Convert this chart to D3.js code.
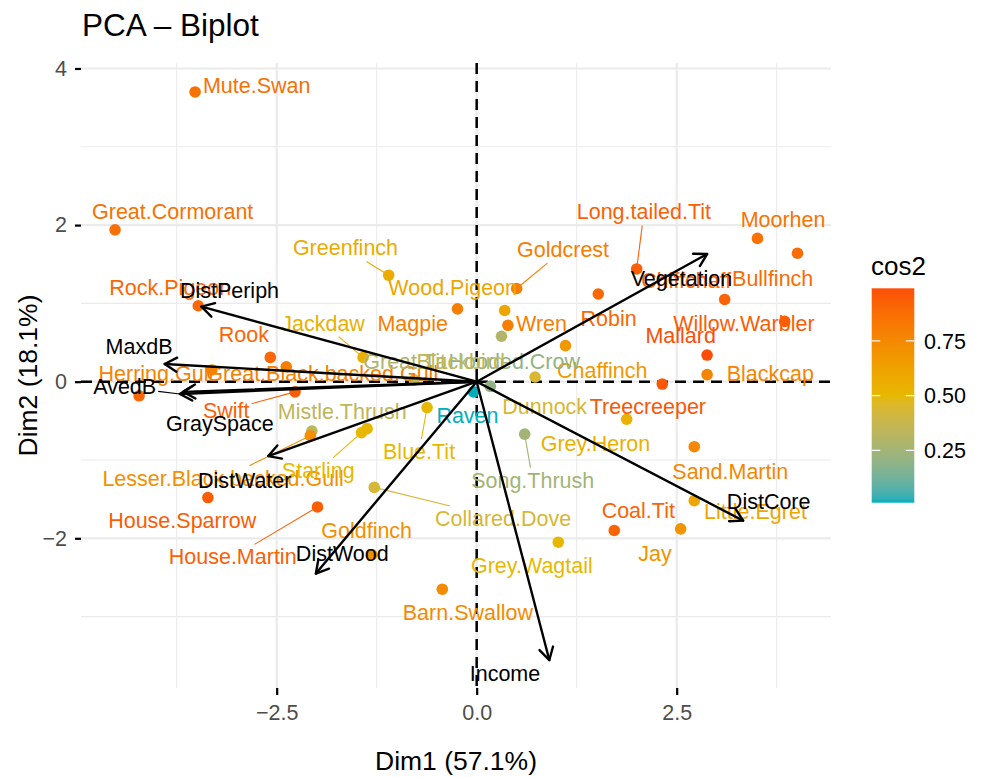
<!DOCTYPE html>
<html>
<head>
<meta charset="utf-8">
<script src="https://cdn.jsdelivr.net/npm/d3@7/dist/d3.min.js"></script>
<style>
  body { margin: 0; background: #fff; }
  text { font-family: "Liberation Sans", Arial, Helvetica, sans-serif; }
</style>
</head>
<body>
<svg id="chart" width="981" height="777"></svg>
<script>
// ---- individuals (bird species): PCA coordinates and quality of representation ----
const birds = ["Mute.Swan","Great.Cormorant","Greenfinch","Wood.Pigeon","Goldcrest","Long.tailed.Tit",
  "Moorhen","Bullfinch","Chiffchaff","Willow.Warbler","Mallard","Blackcap","Treecreeper","Robin",
  "Chaffinch","Dunnock","Wren","Magpie","Jackdaw","Rock.Pigeon","Rook","Great.Black.backed.Gull",
  "Herring.Gull","Black.headed.Gull","Swift","Mistle.Thrush","Lesser.Black.backed.Gull","Starling",
  "Pied.Wagtail","Blue.Tit","Raven","Hooded.Crow","Great.Tit","Blackbird","House.Sparrow",
  "House.Martin","Collared.Dove","Goldfinch","Barn.Swallow","Grey.Wagtail","Coal.Tit","Jay",
  "Little.Egret","Sand.Martin","Grey.Heron","Song.Thrush"];
const dim1 = [-3.52,-4.52,-1.10,0.35,0.50,2.00,3.51,4.01,3.10,3.85,2.88,2.88,2.32,1.52,
  1.11,0.73,0.39,-0.24,-1.42,-3.48,-2.58,-2.38,-3.31,-4.22,-2.27,-2.06,-2.08,-1.44,
  -1.37,-0.62,-0.04,0.17,0.31,-0.78,-3.36,-1.99,-1.28,-1.31,-0.43,1.02,1.72,2.55,
  2.72,2.72,1.875,0.60];
const dim2 = [3.70,1.94,1.36,0.91,1.19,1.44,1.83,1.64,1.05,0.77,0.34,0.09,-0.03,1.12,
  0.46,0.06,0.72,0.93,0.31,0.97,0.31,0.19,0.15,-0.18,-0.13,-0.63,-0.69,-0.65,
  -0.60,-0.33,-0.13,-0.06,0.58,0.02,-1.48,-1.60,-1.35,-2.21,-2.65,-2.05,-1.90,-1.88,
  -1.52,-0.83,-0.48,-0.67];
const cos2 = [0.86,0.86,0.57,0.60,0.80,0.93,0.85,0.88,0.91,0.94,0.99,0.77,0.96,0.90,
  0.68,0.44,0.80,0.80,0.55,0.90,0.90,0.80,0.78,0.90,0.93,0.34,0.72,0.50,
  0.52,0.50,0.011,0.20,0.30,0.35,0.94,0.93,0.43,0.72,0.74,0.50,0.91,0.70,
  0.60,0.76,0.54,0.25];

// ---- variables: loadings drawn as arrows ----
const variables = ["DistCore","DistPeriph","DistWater","DistWood","Income","Vegetation","GraySpace","MaxdB","AvedB"];
const varDim1 = [3.33,-3.44,-2.605,-2.01,0.908,2.88,-3.67,-3.90,-3.71];
const varDim2 = [-1.775,0.958,-0.95,-2.45,-3.555,1.63,-0.13,0.226,-0.157];

// ---- axes ----
const xTicks = [-2.5, 0, 2.5];
const xTickLabels = ["\u22122.5", "0.0", "2.5"];
const xMinor = [-3.75, -1.25, 1.25, 3.75];
const yTicks = [-2, 0, 2, 4];
const yTickLabels = ["\u22122", "0", "2", "4"];
const yMinor = [-3, -1, 1, 3];
const legendTicks = [0.25, 0.5, 0.75];
const legendTickLabels = ["0.25", "0.50", "0.75"];

// ---- repelled label placement (plot units); null = label dropped by the repeller ----
const birdLabelAt = {
  "Mute.Swan": [-2.75, 3.79], "Great.Cormorant": [-3.80, 2.17], "Greenfinch": [-1.64, 1.71],
  "Wood.Pigeon": [-0.30, 1.21], "Goldcrest": [1.08, 1.69], "Long.tailed.Tit": [2.09, 2.17],
  "Moorhen": [3.83, 2.07], "Bullfinch": [3.70, 1.32], "Chiffchaff": [2.62, 1.30],
  "Willow.Warbler": [3.34, 0.75], "Mallard": [2.55, 0.59], "Blackcap": [3.67, 0.11],
  "Treecreeper": [2.14, -0.32], "Robin": [1.65, 0.81], "Chaffinch": [1.57, 0.15],
  "Dunnock": [0.85, -0.32], "Wren": [0.81, 0.75], "Magpie": [-0.80, 0.75],
  "Jackdaw": [-1.92, 0.75], "Rock.Pigeon": [-3.83, 1.21], "Rook": [-2.91, 0.60],
  "Great.Black.backed.Gull": [-1.93, 0.11], "Herring.Gull": [-4.01, 0.11], "Black.headed.Gull": null,
  "Swift": [-3.13, -0.36], "Mistle.Thrush": [-1.68, -0.38], "Lesser.Black.backed.Gull": [-3.17, -1.23],
  "Starling": [-1.98, -1.13], "Pied.Wagtail": null, "Blue.Tit": [-0.72, -0.89],
  "Raven": [-0.115, -0.425], "Hooded.Crow": [0.47, 0.255], "Great.Tit": [-0.90, 0.255],
  "Blackbird": [-0.20, 0.255], "House.Sparrow": [-3.68, -1.77], "House.Martin": [-3.05, -2.235],
  "Collared.Dove": [0.33, -1.745], "Goldfinch": [-1.375, -1.894], "Barn.Swallow": [-0.11, -2.94],
  "Grey.Wagtail": [0.69, -2.34], "Coal.Tit": [2.02, -1.64], "Jay": [2.23, -2.19],
  "Little.Egret": [3.485, -1.66], "Sand.Martin": [3.17, -1.14], "Grey.Heron": [1.485, -0.79],
  "Song.Thrush": [0.70, -1.255]
};
const varLabelAt = {
  "DistCore": [3.65, -1.53], "DistPeriph": [-3.09, 1.17], "DistWater": [-2.90, -1.255],
  "DistWood": [-1.68, -2.19], "Income": [0.354, -3.72], "Vegetation": [2.56, 1.32],
  "GraySpace": [-3.21, -0.53], "MaxdB": [-4.22, 0.456], "AvedB": [-4.40, -0.064]
};
// labels pushed far enough from their mark to get a leader segment
const leaders = new Set(["Greenfinch","Goldcrest","Long.tailed.Tit","Jackdaw","Swift",
  "Lesser.Black.backed.Gull","Starling","Blue.Tit","House.Martin","Collared.Dove","Song.Thrush","AvedB"]);

// ---- layout ----
const svg = d3.select("#chart");
const panel = { left: 81, right: 831, top: 63, bottom: 688 };
const x = d3.scaleLinear().domain([-4.946, 4.429]).range([panel.left, panel.right]);
const y = d3.scaleLinear().domain([-3.912, 4.070]).range([panel.bottom, panel.top]);
const FS = 21.5;

const cMin = d3.min(cos2), cMax = d3.max(cos2);
const color = d3.scaleLinear()
  .domain([cMin, (cMin + cMax) / 2, cMax])
  .range(["#00AFBB", "#E7B800", "#FC4E07"])
  .interpolate(d3.interpolateLab);

// grid
const grid = svg.append("g");
grid.selectAll(".xmin").data(xMinor).join("line")
  .attr("x1", d => x(d)).attr("x2", d => x(d)).attr("y1", panel.top).attr("y2", panel.bottom)
  .attr("stroke", "#EBEBEB").attr("stroke-width", 1.1);
grid.selectAll(".ymin").data(yMinor).join("line")
  .attr("y1", d => y(d)).attr("y2", d => y(d)).attr("x1", panel.left).attr("x2", panel.right)
  .attr("stroke", "#EBEBEB").attr("stroke-width", 1.1);
grid.selectAll(".xmaj").data(xTicks).join("line")
  .attr("x1", d => x(d)).attr("x2", d => x(d)).attr("y1", panel.top).attr("y2", panel.bottom)
  .attr("stroke", "#EBEBEB").attr("stroke-width", 2.2);
grid.selectAll(".ymaj").data(yTicks).join("line")
  .attr("y1", d => y(d)).attr("y2", d => y(d)).attr("x1", panel.left).attr("x2", panel.right)
  .attr("stroke", "#EBEBEB").attr("stroke-width", 2.2);

// axes
const xAxis = d3.axisBottom(x).tickValues(xTicks).tickFormat((d, i) => xTickLabels[i])
  .tickSize(7).tickPadding(10);
const gx = svg.append("g").attr("transform", `translate(0,${panel.bottom})`).call(xAxis);
const yAxis = d3.axisLeft(y).tickValues(yTicks).tickFormat((d, i) => yTickLabels[i])
  .tickSize(6).tickPadding(8);
const gy = svg.append("g").attr("transform", `translate(${panel.left},0)`).call(yAxis);
[gx, gy].forEach(g => {
  g.select(".domain").remove();
  g.selectAll(".tick line").attr("stroke", "#000").attr("stroke-width", 2.2);
  g.selectAll(".tick text").attr("fill", "#4D4D4D").style("font-size", FS + "px")
    .style("font-family", '"Liberation Sans", Arial, sans-serif');
});

// origin reference lines
const ref = svg.append("g");
ref.append("line").attr("x1", x(0)).attr("x2", x(0)).attr("y1", panel.top).attr("y2", panel.bottom)
  .attr("stroke", "#000").attr("stroke-width", 2.5).attr("stroke-dasharray", "11,7");
ref.append("line").attr("y1", y(0)).attr("y2", y(0)).attr("x1", panel.left).attr("x2", panel.right)
  .attr("stroke", "#000").attr("stroke-width", 2.5).attr("stroke-dasharray", "11,7");

// points
const ind = birds.map((b, i) => ({ name: b, x: dim1[i], y: dim2[i], c: cos2[i], at: birdLabelAt[b] }));
svg.append("g").selectAll("circle").data(ind).join("circle")
  .attr("cx", d => x(d.x)).attr("cy", d => y(d.y)).attr("r", 5.8)
  .attr("fill", d => color(d.c));

// helper: leader from label box edge to a target
function leaderFrom(node, tx, ty) {
  const b = node.getBBox();
  const cx = b.x + b.width / 2, cy = b.y + b.height / 2;
  const dx = tx - cx, dy = ty - cy;
  const hw = b.width / 2 + 2, hh = b.height / 2 + 1;
  const t = Math.min(dx === 0 ? Infinity : hw / Math.abs(dx), dy === 0 ? Infinity : hh / Math.abs(dy));
  if (t >= 1) return null;
  return [cx + dx * t, cy + dy * t];
}

// individual labels
const labG = svg.append("g");
const segG = labG.append("g");
const labelled = ind.filter(d => d.at);
labG.selectAll("text").data(labelled).join("text")
  .attr("x", d => x(d.at[0])).attr("y", d => y(d.at[1]) + 0.358 * FS)
  .attr("text-anchor", "middle").style("font-size", FS + "px")
  .attr("fill", d => color(d.c)).text(d => d.name)
  .each(function (d) {
    if (!leaders.has(d.name)) return;
    const s = leaderFrom(this, x(d.x), y(d.y));
    if (s) segG.append("line").attr("x1", s[0]).attr("y1", s[1])
      .attr("x2", x(d.x)).attr("y2", y(d.y)).attr("stroke", color(d.c)).attr("stroke-width", 1.1);
  });

// variable arrows
const vars = variables.map((v, i) => ({ name: v, x: varDim1[i], y: varDim2[i], at: varLabelAt[v] }));
const arrG = svg.append("g");
const headLen = 14, headAng = Math.PI / 6;
vars.forEach(d => {
  const x0 = x(0), y0 = y(0), x1 = x(d.x), y1 = y(d.y);
  arrG.append("line").attr("x1", x0).attr("y1", y0).attr("x2", x1).attr("y2", y1)
    .attr("stroke", "#000").attr("stroke-width", 2.4).attr("stroke-linecap", "round");
  const a = Math.atan2(y1 - y0, x1 - x0);
  const p1 = [x1 - headLen * Math.cos(a - headAng), y1 - headLen * Math.sin(a - headAng)];
  const p2 = [x1 - headLen * Math.cos(a + headAng), y1 - headLen * Math.sin(a + headAng)];
  arrG.append("path").attr("d", `M${p1[0]},${p1[1]}L${x1},${y1}L${p2[0]},${p2[1]}`)
    .attr("fill", "none").attr("stroke", "#000").attr("stroke-width", 2.4)
    .attr("stroke-linecap", "round").attr("stroke-linejoin", "round");
});
const vlabG = svg.append("g");
const vsegG = vlabG.append("g");
vlabG.selectAll("text").data(vars).join("text")
  .attr("x", d => x(d.at[0])).attr("y", d => y(d.at[1]) + 0.358 * FS)
  .attr("text-anchor", "middle").style("font-size", FS + "px").attr("fill", "#000")
  .text(d => d.name)
  .each(function (d) {
    if (!leaders.has(d.name)) return;
    const s = leaderFrom(this, x(d.x), y(d.y));
    if (s) vsegG.append("line").attr("x1", s[0]).attr("y1", s[1])
      .attr("x2", x(d.x)).attr("y2", y(d.y)).attr("stroke", "#000").attr("stroke-width", 1.1);
  });

// titles
svg.append("text").attr("x", 82).attr("y", 36).style("font-size", "31.5px").attr("fill", "#000")
  .text("PCA \u2013 Biplot");
svg.append("text").attr("x", (panel.left + panel.right) / 2).attr("y", 770)
  .attr("text-anchor", "middle").style("font-size", "26.5px").attr("fill", "#000")
  .text("Dim1 (57.1%)");
svg.append("text").attr("transform", `translate(36.5,${(panel.top + panel.bottom) / 2}) rotate(-90)`)
  .attr("text-anchor", "middle").style("font-size", "26.5px").attr("fill", "#000")
  .text("Dim2 (18.1%)");

// colour bar legend
const bar = { x: 871.7, w: 42.6, top: 288.3, bottom: 502.7 };
const ly = d3.scaleLinear().domain([cMin, cMax]).range([bar.bottom, bar.top]);
const grad = svg.append("defs").append("linearGradient").attr("id", "cosGrad")
  .attr("x1", 0).attr("y1", 1).attr("x2", 0).attr("y2", 0);
d3.range(0, 1.0001, 0.02).forEach(t => {
  grad.append("stop").attr("offset", t).attr("stop-color", color(cMin + t * (cMax - cMin)));
});
svg.append("rect").attr("x", bar.x).attr("y", bar.top).attr("width", bar.w)
  .attr("height", bar.bottom - bar.top).attr("fill", "url(#cosGrad)");
const lg = svg.append("g");
legendTicks.forEach((v, i) => {
  lg.append("line").attr("x1", bar.x).attr("x2", bar.x + 8.5).attr("y1", ly(v)).attr("y2", ly(v))
    .attr("stroke", "#fff").attr("stroke-width", 1.2);
  lg.append("line").attr("x1", bar.x + bar.w - 8.5).attr("x2", bar.x + bar.w).attr("y1", ly(v)).attr("y2", ly(v))
    .attr("stroke", "#fff").attr("stroke-width", 1.2);
  lg.append("text").attr("x", 924).attr("y", ly(v) + 0.358 * FS).style("font-size", FS + "px")
    .attr("fill", "#000").text(legendTickLabels[i]);
});
svg.append("text").attr("x", 871).attr("y", 275).style("font-size", "26px").attr("fill", "#000").text("cos2");
</script>
</body>
</html>
